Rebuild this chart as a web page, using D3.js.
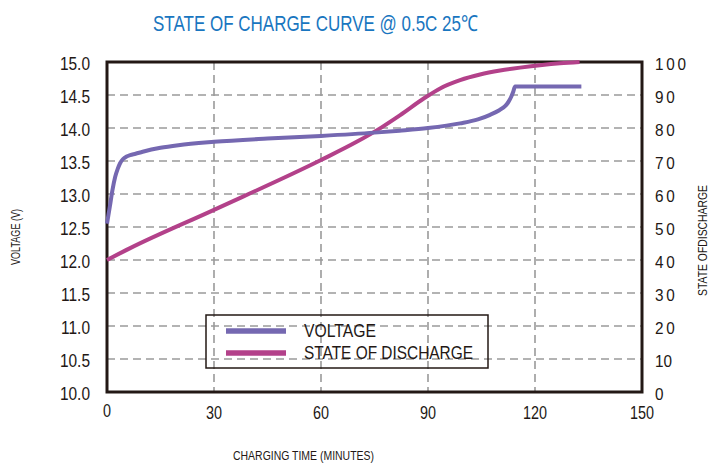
<!DOCTYPE html>
<html>
<head>
<meta charset="utf-8">
<script src="https://cdn.jsdelivr.net/npm/d3@7"></script>
<style>
  body { margin: 0; background: #fff; }
  svg { display: block; font-family: "Liberation Sans", Arial, sans-serif; }
</style>
</head>
<body>
<script>
// voltage curve (minutes, volts)
const voltTime  = [0, 0.8, 1.5, 2.3, 3.0, 3.7, 4.5, 5.5, 6.5, 8, 10, 15, 20, 30, 45, 60, 75, 82, 90, 99, 104, 107.4, 110, 111.6, 112.6, 113.3, 113.9, 114.4, 133];
const voltValue = [12.55, 12.81, 13.05, 13.26, 13.38, 13.47, 13.53, 13.57, 13.59, 13.61, 13.64, 13.7, 13.74, 13.79, 13.84, 13.88, 13.93, 13.96, 14.0, 14.07, 14.13, 14.2, 14.27, 14.33, 14.4, 14.47, 14.55, 14.63, 14.63];

// state of charge curve (minutes, %)
const socTime  = [0, 6.5, 30, 60, 70, 77, 82.2, 88.9, 93.4, 99, 104.6, 110.2, 115.8, 122, 127, 132.5];
const socValue = [40, 43.6, 55.2, 70.3, 75.8, 80.2, 83.9, 89.0, 92.0, 94.5, 96.2, 97.4, 98.3, 99.1, 99.6, 100];

const xTicks = [0, 30, 60, 90, 120, 150];
const voltTicks = [10, 10.5, 11, 11.5, 12, 12.5, 13, 13.5, 14, 14.5, 15];
const socTicks = [0, 10, 20, 30, 40, 50, 60, 70, 80, 90, 100];

const legendNames = ["VOLTAGE", "STATE OF DISCHARGE"];

const W = 711, H = 465;
const ink = "#231815";
const voltColor = "#7568b1";
const socColor = "#b3418a";

const x = d3.scaleLinear().domain([0, 150]).range([107, 642]);
const yV = d3.scaleLinear().domain([10, 15]).range([392, 62]);
const yS = d3.scaleLinear().domain([0, 100]).range([392, 62]);

const svg = d3.select("body").append("svg")
    .attr("width", W)
    .attr("height", H);

// grid
const grid = svg.append("g")
    .attr("stroke", "#9a9a9a")
    .attr("stroke-width", 1.6)
    .attr("stroke-dasharray", "8,5");

grid.selectAll(".vg")
    .data(xTicks.slice(1, -1))
    .enter().append("line")
    .attr("x1", d => x(d)).attr("x2", d => x(d))
    .attr("y1", yV(15)).attr("y2", yV(10));

grid.selectAll(".hg")
    .data(voltTicks.slice(1, -1))
    .enter().append("line")
    .attr("x1", x(0)).attr("x2", x(150))
    .attr("y1", d => yV(d)).attr("y2", d => yV(d));

// frame
svg.append("rect")
    .attr("x", x(0)).attr("y", yV(15))
    .attr("width", x(150) - x(0))
    .attr("height", yV(10) - yV(15))
    .attr("fill", "none")
    .attr("stroke", ink)
    .attr("stroke-width", 3);

// curves
const voltLine = d3.line()
    .x((d, i) => x(voltTime[i]))
    .y(d => yV(d))
    .curve(d3.curveMonotoneX);

const socLine = d3.line()
    .x((d, i) => x(socTime[i]))
    .y(d => yS(d))
    .curve(d3.curveMonotoneX);

svg.append("path")
    .attr("d", socLine(socValue))
    .attr("fill", "none")
    .attr("stroke", socColor)
    .attr("stroke-width", 4);

svg.append("path")
    .attr("d", voltLine(voltValue))
    .attr("fill", "none")
    .attr("stroke", voltColor)
    .attr("stroke-width", 4);

// condensed text helper
function label(parent, txt, tx, ty, size, sx, anchor) {
    return parent.append("text")
        .attr("transform", `translate(${tx},${ty}) scale(${sx},1)`)
        .attr("font-size", size)
        .attr("text-anchor", anchor || "start")
        .attr("fill", ink)
        .text(txt);
}

// tick labels
const ticks = svg.append("g");
voltTicks.forEach(v => label(ticks, v.toFixed(1), 90, yV(v) + 7.5, 18, 0.86, "end"));
socTicks.forEach(v => label(ticks, String(v), 655, yS(v) + 7.5, 17, 0.9, "start")
    .attr("letter-spacing", v === 10 ? 0 : 3));
xTicks.forEach(v => label(ticks, String(v), x(v), v === 0 ? 417 : 419, 18, 0.8, "middle"));

// titles
svg.append("text")
    .attr("x", 153).attr("y", 31)
    .attr("font-size", 22)
    .attr("fill", "#1976c0")
    .attr("textLength", 325)
    .attr("lengthAdjust", "spacingAndGlyphs")
    .text("STATE OF CHARGE CURVE @ 0.5C 25℃");

svg.append("text")
    .attr("x", 233).attr("y", 460)
    .attr("font-size", 12.5)
    .attr("fill", ink)
    .attr("textLength", 141)
    .attr("lengthAdjust", "spacingAndGlyphs")
    .text("CHARGING TIME (MINUTES)");

svg.append("text")
    .attr("transform", "translate(20,265) rotate(-90)")
    .attr("font-size", 12)
    .attr("fill", ink)
    .attr("textLength", 56)
    .attr("lengthAdjust", "spacingAndGlyphs")
    .text("VOLTAGE (V)");

svg.append("text")
    .attr("transform", "translate(707,296) rotate(-90)")
    .attr("font-size", 12)
    .attr("fill", ink)
    .attr("textLength", 111)
    .attr("lengthAdjust", "spacingAndGlyphs")
    .text("STATE OFDISCHARGE");

// legend
const legend = svg.append("g");
legend.append("rect")
    .attr("x", 206).attr("y", 315)
    .attr("width", 282).attr("height", 53)
    .attr("fill", "none")
    .attr("stroke", ink)
    .attr("stroke-width", 1.5);

const legendColors = [voltColor, socColor];
const legendLens = [72, 169];
legendNames.forEach((name, i) => {
    const ly = 331 + i * 22;
    legend.append("line")
        .attr("x1", 226).attr("x2", 286)
        .attr("y1", ly).attr("y2", ly)
        .attr("stroke", legendColors[i])
        .attr("stroke-width", 5.5);
    legend.append("text")
        .attr("x", 304).attr("y", ly + 6)
        .attr("font-size", 19)
        .attr("fill", ink)
        .attr("textLength", legendLens[i])
        .attr("lengthAdjust", "spacingAndGlyphs")
        .text(name);
});
</script>
</body>
</html>
